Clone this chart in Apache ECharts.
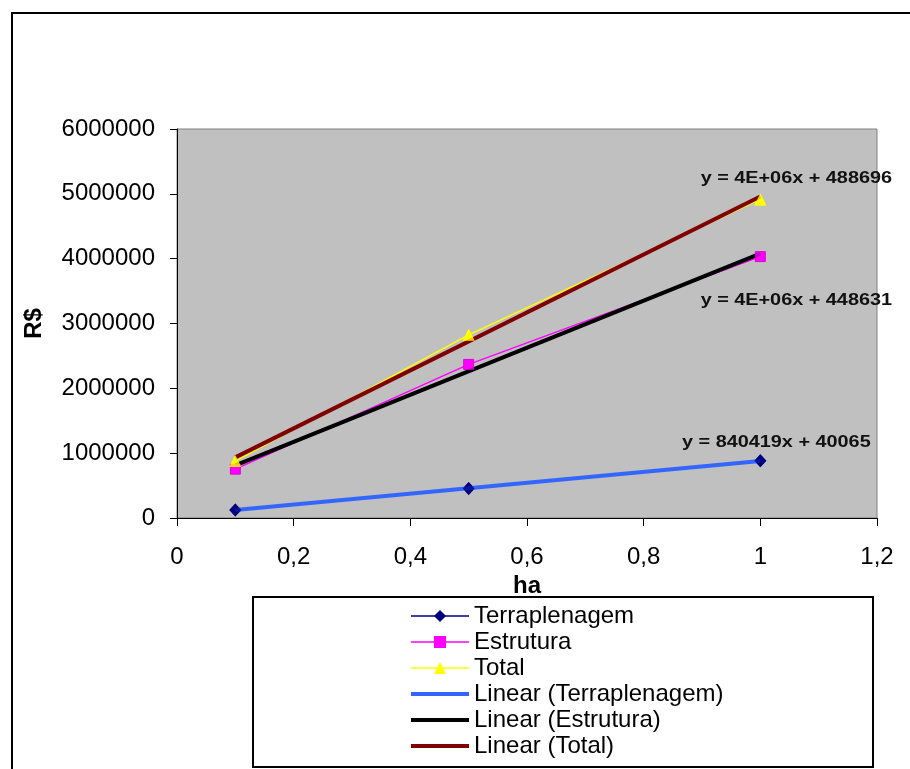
<!DOCTYPE html>
<html>
<head>
<meta charset="utf-8">
<script src="https://cdn.jsdelivr.net/npm/echarts@6/dist/echarts.min.js"></script>
<style>
html,body{margin:0;padding:0;background:#fff;}
#chart{width:910px;height:769px;}
</style>
</head>
<body>
<div id="chart"></div>
<script>
// ---- data ----
const xValues = [0.1, 0.5, 1];
const terraplenagem = [125000, 456000, 882000];
const estrutura = [753000, 2369000, 4032000];
const total = [878000, 2825000, 4914000];
const seriesNames = ['Terraplenagem', 'Estrutura', 'Total'];
const trendNames = ['Linear (Terraplenagem)', 'Linear (Estrutura)', 'Linear (Total)'];
const trendLabels = ['y = 840419x + 40065', 'y = 4E+06x + 448631', 'y = 4E+06x + 488696'];
const xAxisName = 'ha';
const yAxisName = 'R$';

const FONT = "'Liberation Sans', Arial, sans-serif";

function linFit(xs, ys) {
  const n = xs.length;
  const mx = xs.reduce((a, b) => a + b, 0) / n;
  const my = ys.reduce((a, b) => a + b, 0) / n;
  let sxy = 0, sxx = 0;
  for (let i = 0; i < n; i++) { sxy += (xs[i] - mx) * (ys[i] - my); sxx += (xs[i] - mx) ** 2; }
  const b = sxy / sxx;
  return { b: b, a: my - b * mx };
}
const allSets = [terraplenagem, estrutura, total];
const fits = allSets.map(ys => linFit(xValues, ys));
const xMin = Math.min(...xValues), xMax = Math.max(...xValues);
const trendData = fits.map(f => [[xMin, f.a + f.b * xMin], [xMax, f.a + f.b * xMax]]);

const pairs = ys => xValues.map((x, i) => [x, ys[i]]);

const dataColors = ['#000080', '#FF00FF', '#FFFF00'];
const symbols = ['diamond', 'rect', 'triangle'];
const symbolSizes = [[12, 13], 10, 12];
const trendColors = ['#3366FF', '#000000', '#800000'];

const chart = echarts.init(document.getElementById('chart'));

const series = [];
for (let i = 0; i < 3; i++) {
  series.push({
    name: seriesNames[i], type: 'line', data: pairs(allSets[i]),
    symbol: symbols[i], symbolSize: symbolSizes[i], showSymbol: true,
    lineStyle: { color: dataColors[i], width: 1.5 },
    itemStyle: { color: dataColors[i] },
    z: 2, animation: false
  });
}
for (let i = 0; i < 3; i++) {
  series.push({
    name: trendNames[i], type: 'line', data: trendData[i],
    symbol: 'none', showSymbol: false,
    lineStyle: { color: trendColors[i], width: 4 },
    itemStyle: { color: trendColors[i] },
    z: 3, animation: false
  });
}
for (let i = 0; i < 3; i++) {
  series.push({
    name: seriesNames[i] + ' marker', type: 'scatter', data: pairs(allSets[i]),
    symbol: symbols[i], symbolSize: symbolSizes[i],
    itemStyle: { color: dataColors[i], borderColor: i === 1 ? '#CC00CC' : dataColors[i], borderWidth: i === 1 ? 1 : 0 },
    z: 4, animation: false, silent: true
  });
}

const legendData = seriesNames.map(n => ({ name: n, lineStyle: { width: 1.5 } })).concat(
  trendNames.map((n, i) => ({
    name: n,
    itemStyle: { color: 'rgba(0,0,0,0)', borderWidth: 0, opacity: 0 },
    lineStyle: { width: 4, color: trendColors[i] }
  }))
);

const option = {
  animation: false,
  grid: {
    left: 177, top: 129, width: 700, height: 389,
    show: true, backgroundColor: '#C0C0C0', borderColor: '#808080', borderWidth: 1
  },
  xAxis: {
    type: 'value', min: 0, max: 1.2, interval: 0.2,
    name: xAxisName, nameLocation: 'middle', nameGap: 49,
    nameTextStyle: { fontFamily: FONT, fontSize: 24, fontWeight: 'bold', color: '#000' },
    axisLine: { show: true, onZero: false, lineStyle: { color: '#000', width: 1 } },
    axisTick: { show: true, inside: false, length: 8, lineStyle: { color: '#000' } },
    splitLine: { show: false },
    axisLabel: {
      fontFamily: FONT, fontSize: 24, color: '#000', margin: 27,
      formatter: v => String(Math.round(v * 10) / 10).replace('.', ',')
    }
  },
  yAxis: {
    type: 'value', min: 0, max: 6000000, interval: 1000000,
    name: yAxisName, nameLocation: 'middle', nameGap: 131, nameRotate: 90,
    nameTextStyle: { fontFamily: FONT, fontSize: 24, fontWeight: 'bold', color: '#000' },
    axisLine: { show: true, onZero: false, lineStyle: { color: '#000', width: 1 } },
    axisTick: { show: true, inside: false, length: 7, lineStyle: { color: '#000' } },
    splitLine: { show: false },
    axisLabel: { fontFamily: FONT, fontSize: 24, color: '#000', margin: 22, formatter: v => String(v) }
  },
  legend: {
    data: legendData,
    orient: 'vertical', left: 404, top: 598,
    itemWidth: 58, itemHeight: 15, itemGap: 0,
    textStyle: { fontFamily: FONT, fontSize: 24, color: '#000', lineHeight: 26 }
  },
  graphic: [
    { id: 'outer', type: 'rect', shape: { x: 12, y: 13, width: 920, height: 800 },
      style: { fill: 'none', stroke: '#000', lineWidth: 2 }, z: 0, silent: true },
    { id: 'legbox', type: 'rect', shape: { x: 253, y: 597, width: 620, height: 170 },
      style: { fill: '#fff', stroke: '#000', lineWidth: 2 }, z: 0, silent: true }
  ],
  series: series
};
chart.setOption(option);

// Trendline equation labels anchored to each trendline's end point
const labelOffsets = [[16, -18], [36, 47], [36, -18]];
const texts = [];
for (let i = 0; i < 3; i++) {
  const p = chart.convertToPixel({ gridIndex: 0 }, trendData[i][1]);
  texts.push({
    id: 'eq' + i, type: 'text',
    x: p[0] + labelOffsets[i][0], y: p[1] + labelOffsets[i][1],
    scaleX: 1.24, scaleY: 1,
    style: { text: trendLabels[i], font: 'bold 16px ' + FONT, fill: '#111',
             textAlign: 'center', textVerticalAlign: 'middle' },
    z: 10, silent: true
  });
}
chart.setOption({ graphic: texts });
</script>
</body>
</html>
